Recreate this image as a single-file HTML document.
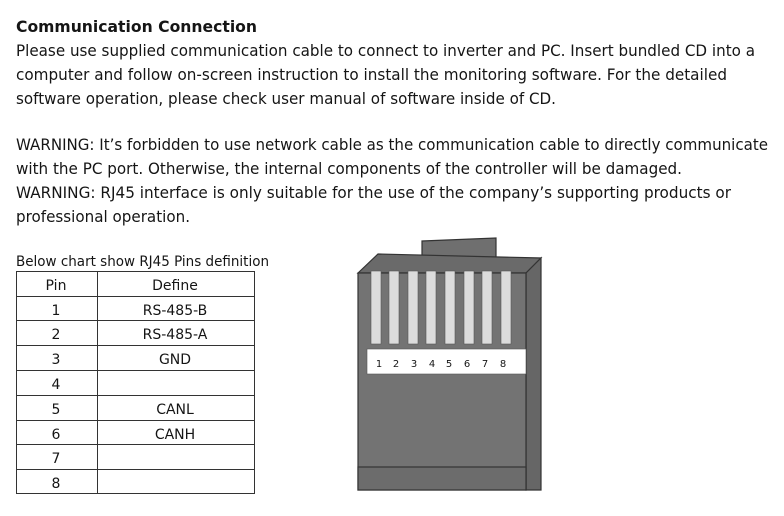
<!DOCTYPE html>
<html><head><meta charset="utf-8"><style>
html,body{margin:0;padding:0;background:#fff;width:784px;height:516px;overflow:hidden}
svg{display:block}
text{font-family:"DejaVu Sans","Liberation Sans",sans-serif;fill:#151515}
</style></head><body>
<svg width="784" height="516" viewBox="0 0 784 516" xmlns="http://www.w3.org/2000/svg">
<g font-size="16">
<text x="16" y="32" font-weight="bold" textLength="241" lengthAdjust="spacingAndGlyphs">Communication Connection</text>
<text x="16" y="56" textLength="739" lengthAdjust="spacingAndGlyphs">Please use supplied communication cable to connect to inverter and PC. Insert bundled CD into a</text>
<text x="16" y="80" textLength="711" lengthAdjust="spacingAndGlyphs">computer and follow on-screen instruction to install the monitoring software. For the detailed</text>
<text x="16" y="104" textLength="540" lengthAdjust="spacingAndGlyphs">software operation, please check user manual of software inside of CD.</text>
<text x="16" y="150" textLength="752" lengthAdjust="spacingAndGlyphs">WARNING: It’s forbidden to use network cable as the communication cable to directly communicate</text>
<text x="16" y="174" textLength="666" lengthAdjust="spacingAndGlyphs">with the PC port. Otherwise, the internal components of the controller will be damaged.</text>
<text x="16" y="198" textLength="715" lengthAdjust="spacingAndGlyphs">WARNING: RJ45 interface is only suitable for the use of the company’s supporting products or</text>
<text x="16" y="222" textLength="174" lengthAdjust="spacingAndGlyphs">professional operation.</text>
</g>
<text x="16" y="266" font-size="14" textLength="253" lengthAdjust="spacingAndGlyphs">Below chart show RJ45 Pins definition</text>
<g stroke="#333" stroke-width="1" fill="none">
<rect x="16.5" y="271.5" width="238" height="222"/>
<line x1="97.5" y1="271" x2="97.5" y2="494"/>
<line x1="16" y1="296.5" x2="255" y2="296.5"/>
<line x1="16" y1="320.5" x2="255" y2="320.5"/>
<line x1="16" y1="345.5" x2="255" y2="345.5"/>
<line x1="16" y1="370.5" x2="255" y2="370.5"/>
<line x1="16" y1="395.5" x2="255" y2="395.5"/>
<line x1="16" y1="420.5" x2="255" y2="420.5"/>
<line x1="16" y1="444.5" x2="255" y2="444.5"/>
<line x1="16" y1="469.5" x2="255" y2="469.5"/>
</g>
<g font-size="14" text-anchor="middle">
<text x="56" y="290">Pin</text><text x="175" y="290">Define</text>
<text x="56" y="315">1</text><text x="175" y="315">RS-485-B</text>
<text x="56" y="339">2</text><text x="175" y="339">RS-485-A</text>
<text x="56" y="364">3</text><text x="175" y="364">GND</text>
<text x="56" y="389">4</text>
<text x="56" y="414">5</text><text x="175" y="414">CANL</text>
<text x="56" y="439">6</text><text x="175" y="439">CANH</text>
<text x="56" y="463">7</text>
<text x="56" y="488">8</text>
</g>
<g stroke="#333" stroke-width="1.2">
<polygon points="422,241 496,238 496,258 422,258" fill="#6f6f6f"/>
<polygon points="358,273 378,254 541,258 526,273" fill="#6a6a6a"/>
<polygon points="526,273 541,258 541,490 526,490" fill="#666"/>
<rect x="358" y="273" width="168" height="217" fill="#737373"/>
<rect x="358" y="467" width="168" height="23" fill="#6c6c6c"/>
</g>
<g fill="#dcdcdc" stroke="#555" stroke-width="0.6">
<rect x="371" y="271" width="10" height="73"/>
<rect x="389" y="271" width="10" height="73"/>
<rect x="408" y="271" width="10" height="73"/>
<rect x="426" y="271" width="10" height="73"/>
<rect x="445" y="271" width="10" height="73"/>
<rect x="464" y="271" width="10" height="73"/>
<rect x="482" y="271" width="10" height="73"/>
<rect x="501" y="271" width="10" height="73"/>
</g>
<rect x="367" y="349" width="159" height="25" fill="#fff" stroke="#555" stroke-width="0.6"/>
<g font-size="10" text-anchor="middle">
<text x="379" y="367">1</text><text x="396" y="367">2</text><text x="414" y="367">3</text><text x="432" y="367">4</text><text x="449" y="367">5</text><text x="467" y="367">6</text><text x="485" y="367">7</text><text x="503" y="367">8</text>
</g>
</svg>
</body></html>
